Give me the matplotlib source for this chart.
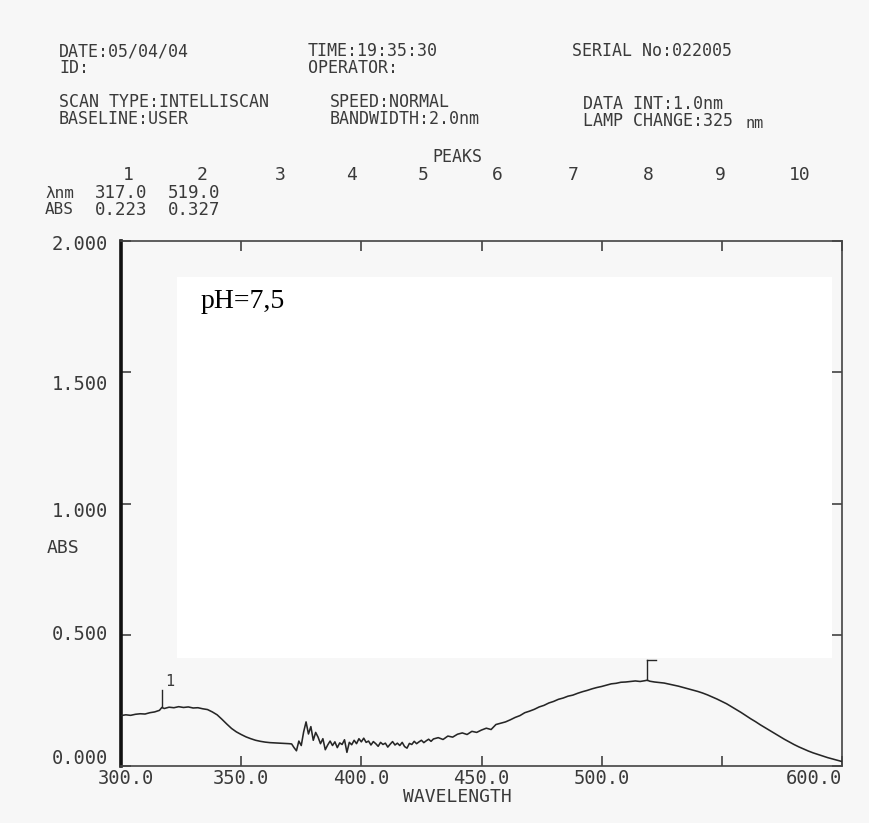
import matplotlib
matplotlib.use('Agg')
import matplotlib.pyplot as plt
from matplotlib.patches import Rectangle
from matplotlib.transforms import blended_transform_factory, ScaledTranslation

# spectrum (nm, ABS)
wavelength = [
    300, 302, 304, 306, 308, 310, 312, 314, 316, 317, 318, 320, 322, 324, 326, 328,
    330, 332, 334, 336, 338, 340, 342, 344, 346, 348, 350, 352, 354, 356, 358, 360,
    362, 364, 366, 368, 370, 371, 372, 373, 374, 375, 376, 377, 378, 379, 380, 381,
    382, 383, 384, 385, 386, 387, 388, 389, 390, 391, 392, 393, 394, 395, 396, 397,
    398, 399, 400, 401, 402, 403, 404, 405, 406, 407, 408, 409, 410, 411, 412, 413,
    414, 415, 416, 417, 418, 419, 420, 421, 422, 423, 424, 425, 426, 427, 428, 429,
    430, 432, 434, 436, 438, 440, 442, 444, 446, 448, 450, 452, 454, 456, 458, 460,
    462, 464, 466, 468, 470, 472, 474, 476, 478, 480, 482, 484, 486, 488, 490, 492,
    494, 496, 498, 500, 502, 504, 506, 508, 510, 512, 514, 516, 518, 519, 520, 522,
    524, 526, 528, 530, 532, 534, 536, 538, 540, 542, 544, 546, 548, 550, 552, 554,
    556, 558, 560, 562, 564, 566, 568, 570, 572, 574, 576, 578, 580, 582, 584, 586,
    588, 590, 592, 594, 596, 598, 600,
]
absorbance = [
    0.192, 0.195, 0.193, 0.197, 0.199, 0.198, 0.203, 0.206, 0.212, 0.223, 0.219, 0.224, 0.222, 0.226, 0.223, 0.225,
    0.221, 0.222, 0.218, 0.215, 0.206, 0.195, 0.178, 0.160, 0.143, 0.130, 0.120, 0.111, 0.104, 0.098, 0.094, 0.091,
    0.089, 0.088, 0.087, 0.086, 0.085, 0.084, 0.070, 0.058, 0.095, 0.078, 0.130, 0.168, 0.122, 0.150, 0.098, 0.128,
    0.110, 0.085, 0.104, 0.062, 0.080, 0.095, 0.078, 0.092, 0.070, 0.088, 0.082, 0.100, 0.052, 0.090, 0.081, 0.098,
    0.085, 0.104, 0.092, 0.106, 0.090, 0.095, 0.080, 0.093, 0.085, 0.075, 0.090, 0.082, 0.087, 0.072, 0.083, 0.093,
    0.080, 0.087, 0.078, 0.090, 0.074, 0.068, 0.086, 0.082, 0.094, 0.085, 0.092, 0.098, 0.089, 0.096, 0.102, 0.094,
    0.103, 0.108, 0.101, 0.114, 0.110, 0.121, 0.126, 0.120, 0.132, 0.128, 0.137, 0.144, 0.139, 0.158, 0.163, 0.168,
    0.176, 0.185, 0.192, 0.203, 0.209, 0.216, 0.225, 0.231, 0.240, 0.246, 0.254, 0.259, 0.266, 0.270, 0.277, 0.283,
    0.288, 0.294, 0.299, 0.303, 0.308, 0.313, 0.315, 0.319, 0.320, 0.322, 0.324, 0.322, 0.325, 0.327, 0.323, 0.320,
    0.318, 0.316, 0.312, 0.308, 0.304, 0.299, 0.294, 0.289, 0.284, 0.278, 0.271, 0.263, 0.255, 0.246, 0.237, 0.226,
    0.215, 0.204, 0.192, 0.180, 0.169, 0.157, 0.146, 0.135, 0.124, 0.113, 0.102, 0.092, 0.082, 0.073, 0.065, 0.057,
    0.050, 0.044, 0.038, 0.032, 0.027, 0.022, 0.017,
]

peak_wl = [317.0, 519.0]
peak_abs = [0.223, 0.327]
peak_slots = ['1', '2', '3', '4', '5', '6', '7', '8', '9', '10']

xtick_values = [300, 350, 400, 450, 500, 550, 600]
xtick_labels = ['300.0', '350.0', '400.0', '450.0', '500.0', '', '600.0']
ytick_values = [0.0, 0.5, 1.0, 1.5, 2.0]
ytick_labels = ['0.000', '0.500', '1.000', '1.500', '2.000']

W, H = 870, 823
INK = '#3a3a3a'
LINE = '#262626'
plt.rcParams['font.family'] = ['DejaVu Sans Mono', 'DejaVu Sans']

fig = plt.figure(figsize=(W / 100, H / 100), dpi=100, facecolor='#f7f7f7')


def put(s, x, y, size=12, ha='left', **kw):
    # place text by pixel position on the printout
    fig.text(x / W, 1 - y / H, s, ha=ha, va='center', fontsize=size, color=INK, **kw)


# printer header
put('DATE:05/04/04', 59, 51)
put('ID:', 59, 68)
put('TIME:19:35:30', 308, 51)
put('OPERATOR:', 308, 68)
put('SERIAL No:022005', 572, 51)
put('SCAN TYPE:INTELLISCAN', 59, 102)
put('BASELINE:USER', 59, 119)
put('SPEED:NORMAL', 330, 102)
put('BANDWIDTH:2.0nm', 330, 119)
put('DATA INT:1.0nm', 583, 104)
put('LAMP CHANGE:325', 583, 121)
put('nm', 746, 123, size=11)
put('PEAKS', 432, 157)

slot_x = [128, 202, 280, 352, 423, 497, 573, 648, 720, 800]
for s, x in zip(peak_slots, slot_x):
    put(s, x, 175, size=13, ha='center')
put('λnm', 45, 193, size=11.5)
put('ABS', 45, 210, size=11.5)
col_x = [95, 168]
for wl, a, x in zip(peak_wl, peak_abs, col_x):
    put(f'{wl:.1f}', x, 193, size=12.5)
    put(f'{a:.3f}', x, 210, size=12.5)

# plot area
left, right, top, bottom = 121, 842, 241, 766
ax = fig.add_axes([left / W, 1 - bottom / H, (right - left) / W, (bottom - top) / H])
ax.set_facecolor('none')
ax.add_patch(Rectangle((0.078, 0.206), 0.908, 0.725, transform=ax.transAxes,
                       facecolor='white', edgecolor='none', zorder=0))

ax.plot(wavelength, absorbance, color=LINE, lw=1.15, zorder=3)

# peak markers
ax.plot([peak_wl[0], peak_wl[0]], [peak_abs[0], peak_abs[0] + 0.068], color=LINE, lw=1.0)
ax.text(peak_wl[0] + 1.5, peak_abs[0] + 0.098, '1', fontsize=11, color=INK, ha='left', va='center')
ax.plot([peak_wl[1], peak_wl[1]], [peak_abs[1], peak_abs[1] + 0.075], color=LINE, lw=1.0)
ax.plot([peak_wl[1], peak_wl[1] + 3.5], [peak_abs[1] + 0.075, peak_abs[1] + 0.075], color=LINE, lw=1.0)

ax.set_xlim(300, 600)
ax.set_ylim(0, 2.0)

for side in ['top', 'right', 'bottom']:
    ax.spines[side].set_linewidth(1.2)
    ax.spines[side].set_color('#444444')
ax.spines['left'].set_linewidth(2.6)
ax.spines['left'].set_color('#111111')

ax.set_xticks(xtick_values)
ax.set_xticklabels(xtick_labels)
ax.set_yticks(ytick_values)
ax.set_yticklabels([])
ax.tick_params(axis='both', direction='in', length=7.5, width=1.1, color='#333333',
               top=True, right=True, labelsize=13.5, labelcolor=INK)
ax.tick_params(axis='x', pad=2)
xlabs = ax.get_xticklabels()
xlabs[0].set_transform(xlabs[0].get_transform() + ScaledTranslation(0.05, 0, fig.dpi_scale_trans))
xlabs[-1].set_horizontalalignment('right')

# y labels sit a little off their ticks on the printout
nudge_px = [-7, 0, 8, 12, 4]
ybase = blended_transform_factory(ax.transAxes, ax.transData)
for v, lab, n in zip(ytick_values, ytick_labels, nudge_px):
    tr = ybase + ScaledTranslation(0, -n / 100, fig.dpi_scale_trans)
    ax.text(-0.018, v, lab, transform=tr, ha='right', va='center', fontsize=13.5, color=INK)

put('ABS', 47, 548, size=13)
put('WAVELENGTH', 457, 797, size=13, ha='center')

fig.text(201 / W, 1 - 301 / H, 'pH=7,5', ha='left', va='center', fontsize=20,
         family=['Liberation Serif', 'DejaVu Serif'], color='black')

fig.savefig('out.png', dpi=100, facecolor=fig.get_facecolor())
